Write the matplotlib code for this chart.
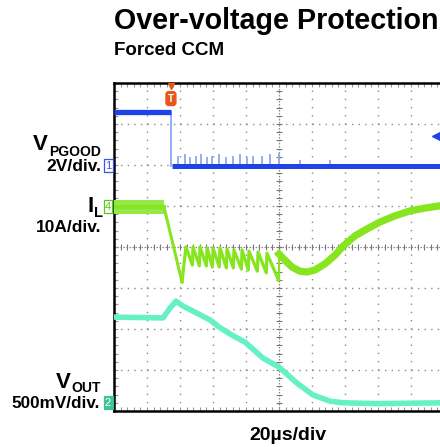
import matplotlib
matplotlib.use("Agg")
import matplotlib.pyplot as plt
import numpy as np

# ---------------- data (time in µs, amplitude in screen divisions) ----------------
# Channel 1: V_PGOOD (2 V/div)
pgood_t = [0.0, 34.5, 200.0]
pgood_div = [3.29, 3.29, 1.98]          # level before / after the fault edge
pgood_spike_t = [38.8, 43.0, 46.1, 49.7, 52.7, 56.4, 59.4, 63.6, 67.9, 72.1,
                 76.4, 80.6, 84.2, 89.7, 94.5, 100.0, 112.7, 130.9]
pgood_spike_h = [0.25, 0.28, 0.22, 0.25, 0.28, 0.22, 0.25, 0.28, 0.22, 0.25,
                 0.28, 0.22, 0.25, 0.25, 0.28, 0.32, 0.14, 0.14]

# Channel 4: I_L (10 A/div)
il_flat_t = [0.0, 30.3]
il_flat_div = [0.98, 0.98]
il_ripple_div = 0.17
il_drop_t = [30.3, 41.2]
il_drop_div = [0.98, -0.85]
il_tooth_t = [43.6, 47.9, 52.1, 56.4, 60.0, 64.2, 68.5, 72.7, 77.6, 81.8, 87.3, 92.7]
il_tooth_top = [0.0, 0.0, 0.0, -0.02, -0.02, -0.02, -0.05, -0.07, -0.07, -0.10, -0.12, -0.15]
il_tooth_bot = [-0.44, -0.46, -0.46, -0.49, -0.49, -0.51, -0.51, -0.54, -0.56, -0.59, -0.63, -0.80]
il_tooth_end = 100.0
il_rec_t = [100.0, 103.6, 107.9, 112.7, 117.0, 121.8, 127.9, 133.9, 138.8, 146.0,
            153.3, 161.2, 170.3, 179.4, 188.5, 200.0]
il_rec_div = [-0.17, -0.32, -0.49, -0.59, -0.61, -0.56, -0.41, -0.20, 0.02, 0.27,
              0.44, 0.61, 0.76, 0.88, 0.95, 1.02]

# Channel 2: V_OUT (500 mV/div)
vout_t = [0.0, 29.7, 33.9, 37.6, 41.8, 49.1, 58.2, 63.6, 71.5, 79.4, 90.3, 100.0,
          110.9, 120.6, 130.9, 138.8, 160.0, 200.0]
vout_div = [-1.71, -1.73, -1.49, -1.32, -1.44, -1.59, -1.78, -1.95, -2.15, -2.32,
            -2.71, -2.93, -3.32, -3.61, -3.76, -3.80, -3.82, -3.80]

ch1_ref, ch4_ref, ch2_ref = 1.98, 0.98, -3.80
trig_t, trig_level = 34.5, 2.71

title = "Over-voltage Protection"
subtitle = "Forced CCM"
timebase = "20µs/div"

BLUE = "#1f44e6"
BLUE_L = "#8fa6f5"
GREEN = "#86e51e"
GREEN_BAND = "#95e84a"
CYAN = "#66f0c6"
ORANGE = "#e8561e"

# ---------------- figure ----------------
W, H = 440, 447
fig = plt.figure(figsize=(W / 100, H / 100), dpi=100)
fig.patch.set_facecolor("white")
ax = fig.add_axes([114 / W, (H - 411) / H, 330 / W, 328 / H])
ax.set_xlim(0, 200)
ax.set_ylim(-4, 4)

FONT = "Liberation Sans"
plt.rcParams["font.family"] = FONT

# grid
for i in range(1, 10):
    x = i * 20
    if i == 5:
        ax.axvline(x, color="#888888", lw=0.9, ls=(0, (1.2, 1.2)), zorder=1)
    else:
        ax.axvline(x, color="#8a8a8a", lw=1.0, ls=(0, (1.0, 4.9)), zorder=1)
for j in range(-3, 4):
    if j == 0:
        ax.axhline(0, color="#888888", lw=0.9, ls=(0, (1.2, 1.2)), zorder=1)
    else:
        ax.axhline(j, color="#8a8a8a", lw=1.0, ls=(0, (1.0, 3.75)), zorder=1)
# center-line cross ticks
ticks_x = np.arange(0, 200.01, 4)
ax.plot(ticks_x, np.zeros_like(ticks_x), ls="none", marker="|", ms=5, mew=0.8,
        color="#777777", zorder=1)
ticks_y = np.arange(-4, 4.01, 0.2)
ax.plot(np.full_like(ticks_y, 100), ticks_y, ls="none", marker="_", ms=5, mew=0.8,
        color="#777777", zorder=1)

ax.set_xticks([])
ax.set_yticks([])
ax.set_xticks(np.arange(0, 200.01, 4), minor=True)
ax.set_yticks(np.arange(-4, 4.01, 0.2), minor=True)
ax.tick_params(which="minor", direction="in", length=3, width=0.8, color="#999999",
               top=True, bottom=True, left=True, right=False,
               labelbottom=False, labelleft=False)
for s in ["left", "top", "bottom"]:
    ax.spines[s].set_linewidth(1.8)
    ax.spines[s].set_color("black")
ax.spines["right"].set_visible(False)

# ---------------- traces ----------------
# V_PGOOD
ax.plot([pgood_t[0], pgood_t[1]], [pgood_div[0], pgood_div[1]], color=BLUE, lw=3.8,
        solid_capstyle="butt", zorder=4)
ax.plot([pgood_t[1], pgood_t[1]], [pgood_div[1], pgood_div[2]], color=BLUE_L, lw=1.3, zorder=3)
ax.plot([pgood_t[1] + 0.6, pgood_t[2]], [pgood_div[2], pgood_div[2]], color=BLUE, lw=3.6,
        solid_capstyle="butt", zorder=4)
ax.vlines(pgood_spike_t, pgood_div[2], np.array(pgood_div[2]) + np.array(pgood_spike_h),
          color=BLUE_L, lw=1.3, zorder=3)

# I_L
ax.fill_between(il_flat_t, np.array(il_flat_div) - il_ripple_div,
                np.array(il_flat_div) + il_ripple_div, color=GREEN_BAND, lw=0, zorder=4)
ax.plot(il_flat_t, il_flat_div, color=GREEN, lw=3.0, zorder=4)
ax.plot(il_drop_t, il_drop_div, color=GREEN, lw=2.2, zorder=4)
tt, yy = [il_drop_t[-1]], [il_drop_div[-1]]
nxt = il_tooth_t[1:] + [il_tooth_end]
for t0, t1, top, bot in zip(il_tooth_t, nxt, il_tooth_top, il_tooth_bot):
    tt += [t0, t1 - 0.4]
    yy += [top, bot]
ax.plot(tt, yy, color=GREEN, lw=2.3, zorder=4)
ax.plot([il_tooth_end, il_rec_t[0]], [il_tooth_bot[-1], il_rec_div[0]], color=GREEN,
        lw=1.5, zorder=4)
ax.plot(il_rec_t, il_rec_div, color=GREEN, lw=5.2, solid_joinstyle="round", zorder=4)

# V_OUT
ax.plot(vout_t, vout_div, color=CYAN, lw=4.0, solid_joinstyle="round", zorder=4)

# trigger markers
ax.plot([trig_t], [3.93], marker="v", ms=5, color=ORANGE, clip_on=False, zorder=6)
ax.text(trig_t, 3.62, "T", ha="center", va="center", fontsize=7, fontweight="bold",
        color="white", family=FONT, zorder=6,
        bbox=dict(boxstyle="round,pad=0.2,rounding_size=0.3", fc=ORANGE, ec=ORANGE))
ax.plot([195.8], [trig_level], marker="<", ms=7, color=BLUE, clip_on=False, zorder=6)

# channel reference markers
yt = ax.get_yaxis_transform()
ax.text(-0.018, ch1_ref, "1", transform=yt, ha="center", va="center", fontsize=8,
        color="#3a55e0", family=FONT, clip_on=False,
        bbox=dict(boxstyle="square,pad=0.12", fc="white", ec="#3a55e0", lw=0.9))
ax.text(-0.018, ch4_ref, "4", transform=yt, ha="center", va="center", fontsize=8,
        color="#5cc81a", family=FONT, clip_on=False,
        bbox=dict(boxstyle="square,pad=0.12", fc="white", ec="#5cc81a", lw=0.9))
ax.text(-0.018, ch2_ref, "2", transform=yt, ha="center", va="center", fontsize=8,
        color="white", family=FONT, clip_on=False,
        bbox=dict(boxstyle="square,pad=0.12", fc="#3cc49a", ec="#3cc49a", lw=0.9))

# ---------------- text ----------------
def ftext(px, py, s, **kw):
    fig.text(px / W, 1 - py / H, s, family=FONT, fontweight="bold", color="black", **kw)

ftext(114, 29, title, fontsize=20.6, va="baseline", ha="left")
ftext(114, 55, subtitle, fontsize=13.5, va="baseline", ha="left")

ftext(48, 150, "V", fontsize=16, va="baseline", ha="right")
ftext(101, 156, "PGOOD", fontsize=10, va="baseline", ha="right")
ftext(101, 171, "2V/div.", fontsize=12.5, va="baseline", ha="right")

ftext(93.5, 212, "I", fontsize=16, va="baseline", ha="right")
ftext(103, 217, "L", fontsize=10.5, va="baseline", ha="right")
ftext(101, 232, "10A/div.", fontsize=12.5, va="baseline", ha="right")

ftext(71, 388, "V", fontsize=16, va="baseline", ha="right")
ftext(101, 392, "OUT", fontsize=10, va="baseline", ha="right")
ftext(100, 408, "500mV/div.", fontsize=12.3, va="baseline", ha="right")

ftext(288, 440, timebase, fontsize=14, va="baseline", ha="center")

fig.savefig("out.png", dpi=100, facecolor="white")
